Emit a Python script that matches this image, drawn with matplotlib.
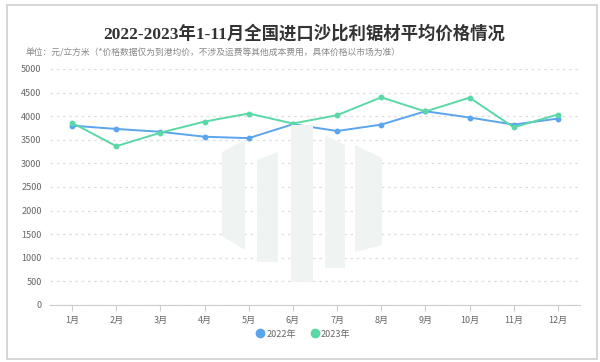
import matplotlib
matplotlib.use('Agg')
import matplotlib.pyplot as plt
from matplotlib.patches import Polygon, Rectangle
from matplotlib.lines import Line2D

plt.rcParams['font.family'] = ['Noto Sans CJK SC', 'DejaVu Sans']

# data
months = ['1月', '2月', '3月', '4月', '5月', '6月', '7月', '8月', '9月', '10月', '11月', '12月']
price_2022 = [3800, 3730, 3670, 3565, 3535, 3830, 3686, 3822, 4105, 3972, 3822, 3950]
price_2023 = [3860, 3365, 3650, 3886, 4057, 3845, 4021, 4400, 4100, 4393, 3764, 4036]
yticks = [0, 500, 1000, 1500, 2000, 2500, 3000, 3500, 4000, 4500, 5000]

blue = '#5ba4ee'
green = '#5ad8a6'

fig = plt.figure(figsize=(6, 3.62), dpi=100)

# outer frame
fig.patches.append(Rectangle((7 / 600, 1 - 359 / 362), 590 / 600, 354 / 362,
                             transform=fig.transFigure, fill=False,
                             edgecolor='#cfcfcf', linewidth=1.2))

# faint watermark logo (decoration only)
def px(pts):
    return [(x / 600, 1 - y / 362) for x, y in pts]

wm = '#eff3f2'
for pts in [
    [(222, 152), (245, 140), (245, 250), (222, 236)],
    [(257, 160), (278, 152), (278, 262), (257, 262)],
    [(291, 125), (313, 125), (313, 282), (291, 282)],
    [(325, 135), (345, 145), (345, 268), (325, 268)],
    [(355, 145), (382, 158), (382, 245), (355, 252)],
]:
    fig.patches.append(Polygon(px(pts), closed=True, transform=fig.transFigure,
                               facecolor=wm, edgecolor='none', zorder=0))

ax = fig.add_axes([50 / 600, 1 - 305 / 362, 530 / 600, 236 / 362])
ax.patch.set_alpha(0)

x = list(range(1, len(months) + 1))
ax.plot(x, price_2022, color=blue, linewidth=1.4, marker='o', markersize=3.2, zorder=3)
ax.plot(x, price_2023, color=green, linewidth=1.4, marker='o', markersize=3.2, zorder=3)

ax.set_xlim(0.5, 12.5)
ax.set_ylim(0, 5000)
ax.set_yticks(yticks)
ax.set_xticks(x)
ax.set_xticklabels(months)
ax.tick_params(axis='y', length=0, labelsize=6.5, labelcolor='#666666', pad=6)
ax.tick_params(axis='x', length=4, color='#cccccc', labelsize=6.5, labelcolor='#666666', pad=4)
ax.grid(axis='y', color='#dddddd', linestyle=(0, (2, 3)), linewidth=0.9)
for s in ['top', 'right', 'left']:
    ax.spines[s].set_visible(False)
ax.spines['bottom'].set_color('#cccccc')

fig.text(0.507, 1 - 34 / 362, '2022-2023年1-11月全国进口沙比利锯材平均价格情况',
         ha='center', va='center', fontsize=12.5, fontweight='bold', color='#333333',
         family=['Liberation Serif', 'Noto Sans CJK SC'])
fig.text(26 / 600, 1 - 53 / 362,
         '单位：元/立方米（*价格数据仅为到港均价，不涉及运费等其他成本费用，具体价格以市场为准）',
         ha='left', va='center', fontsize=6.3, color='#888888')

handles = [Line2D([], [], linestyle='none', marker='o', markersize=6, color=blue),
           Line2D([], [], linestyle='none', marker='o', markersize=6, color=green)]
fig.legend(handles, ['2022年', '2023年'], loc='center', bbox_to_anchor=(0.505, 1 - 334 / 362),
           ncol=2, frameon=False, fontsize=6.5, labelcolor='#666666',
           handletextpad=0.2, columnspacing=1.6, handlelength=1.0)

fig.savefig('out.png', dpi=100)
